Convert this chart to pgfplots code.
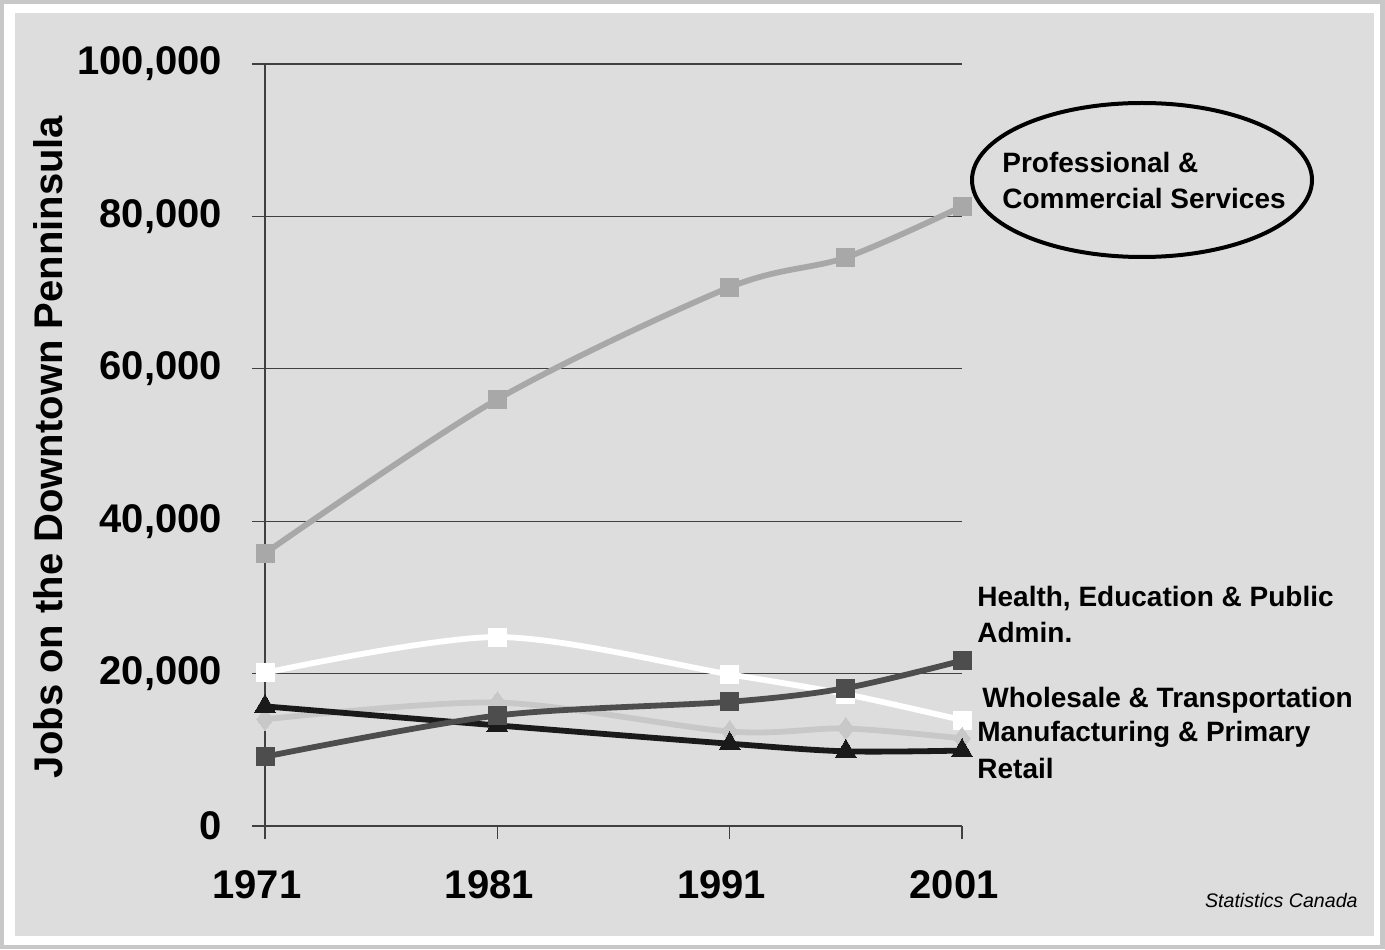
\documentclass[border=0pt]{standalone}
\usepackage{pgfplots}
\pgfplotsset{compat=1.18}
\usepackage{fontspec}
\setmainfont{Liberation Sans}
\definecolor{bgray}{RGB}{221,221,221}
\definecolor{frame}{RGB}{200,200,200}
\definecolor{profc}{RGB}{168,168,168}
\definecolor{healthc}{RGB}{77,77,77}
\definecolor{manufc}{RGB}{200,200,200}
\definecolor{retailc}{RGB}{26,26,26}
\definecolor{gridc}{RGB}{64,64,64}
\begin{document}
\begin{tikzpicture}
% canvas: 1 px of the reference = 0.5pt
\path[use as bounding box] (0,0) rectangle (692.5pt,474.5pt);
\fill[frame] (0,0) rectangle (692.5pt,474.5pt);
\fill[white] (2pt,2pt) rectangle (690pt,472.5pt);
\fill[bgray] (7.5pt,6.5pt) rectangle (687pt,468pt);

\begin{axis}[
    at={(132.5pt,61.5pt)}, anchor=south west,
    width=348.5pt, height=381pt, scale only axis,
    xmin=1971, xmax=2001, ymin=0, ymax=100000,
    axis lines*=left,
    axis line style={line width=0.7pt, gridc},
    xtick={1971,1981,1991,2001},
    xticklabels={1971,1981,1991,2001},
    ytick={0,20000,40000,60000,80000,100000},
    ymajorgrids,
    grid style={line width=0.6pt, gridc},
    tick style={line width=0.7pt, gridc},
    tick align=outside, major tick length=6.5pt,
    scaled y ticks=false,
    y tick label style={/pgf/number format/fixed, /pgf/number format/1000 sep={,}, xshift=-11.5pt},
    x tick label style={yshift=-12pt, xshift=-4pt},
    tick label style={font=\bfseries\fontsize{20}{20}\selectfont},
    /pgf/number format/assume math mode=true,
    clip=false,
    every axis plot/.append style={line width=2.9pt, smooth, tension=0.5},
]
% Professional & Commercial Services
\addplot[profc, mark=square*, mark size=4.5pt, mark options={solid, fill=profc, draw=profc, line width=0pt}] coordinates {
    (1971,35800) (1981,56000) (1991,70700) (1996,74600) (2001,81300)
};
% Wholesale & Transportation
\addplot[white, mark=square*, mark size=4.5pt, mark options={fill=white, draw=white, line width=0pt}] coordinates {
    (1971,20100) (1981,24800) (1991,19900) (1996,17300) (2001,13900)
};
% Manufacturing & Primary
\addplot[manufc, mark=diamond*, mark size=5.5pt, mark options={fill=manufc, draw=manufc, line width=0pt}] coordinates {
    (1971,14000) (1981,16200) (1991,12400) (1996,12800) (2001,11500)
};
% Retail
\addplot[retailc, mark=triangle*, mark size=6pt, mark options={fill=retailc, draw=retailc, line width=0pt}] coordinates {
    (1971,15700) (1981,13200) (1991,10800) (1996,9800) (2001,9900)
};
% Health, Education & Public Admin.
\addplot[healthc, mark=square*, mark size=4.5pt, mark options={fill=healthc, draw=healthc, line width=0pt}] coordinates {
    (1971,9100) (1981,14500) (1991,16300) (1996,18100) (2001,21700)
};
\end{axis}

\node[rotate=90, font=\bfseries\fontsize{20}{20}\selectfont] at (24pt,251pt) {Jobs on the Downtown Penninsula};

\draw[black, line width=2pt] (571pt,384.5pt) ellipse [x radius=85pt, y radius=38.5pt];
\node[anchor=west, align=left, inner sep=0pt, font=\bfseries\fontsize{14}{18}\selectfont] at (501pt,384.5pt) {Professional \&\\Commercial Services};

\node[anchor=west, align=left, inner sep=0pt, font=\bfseries\fontsize{14}{18}\selectfont] at (488.5pt,167.5pt) {Health, Education \& Public\\Admin.};
\node[anchor=west, inner sep=0pt, font=\bfseries\fontsize{14}{18}\selectfont] at (491pt,124.5pt) {Wholesale \& Transportation};
\node[anchor=west, inner sep=0pt, font=\bfseries\fontsize{14}{18}\selectfont] at (488.5pt,107.5pt) {Manufacturing \& Primary};
\node[anchor=west, inner sep=0pt, font=\bfseries\fontsize{14}{18}\selectfont] at (488.5pt,90.5pt) {Retail};

\node[anchor=east, inner sep=0pt, font=\itshape\fontsize{9.8}{10}\selectfont] at (679pt,24.5pt) {Statistics Canada};
\end{tikzpicture}
\end{document}
